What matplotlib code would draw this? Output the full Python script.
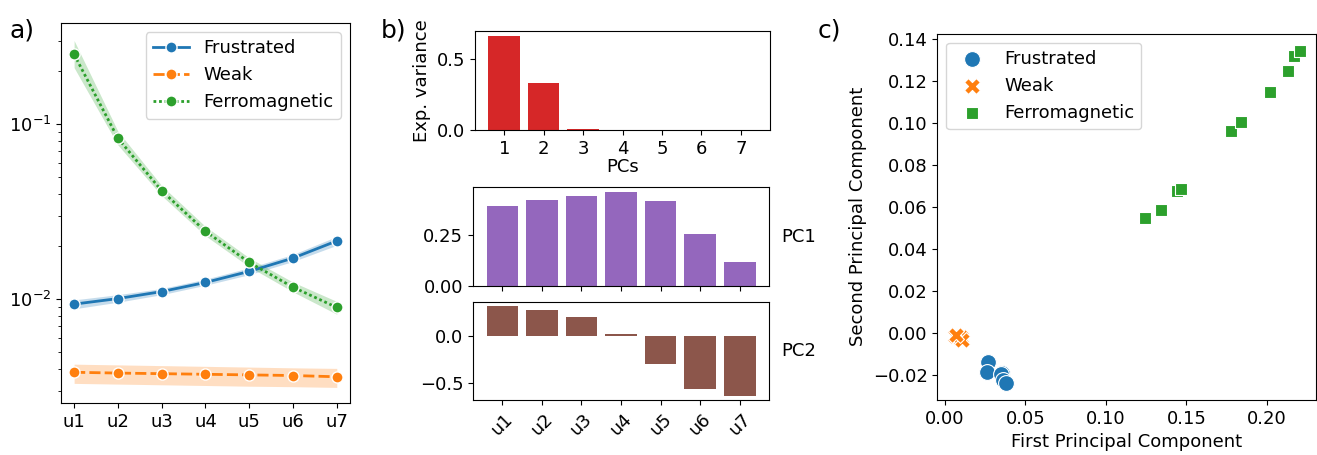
import numpy as np
import matplotlib
matplotlib.use("Agg")
import matplotlib.pyplot as plt

plt.rcParams['font.size'] = 13

# --- panel a: error vs. input (log scale)
units = ['u1', 'u2', 'u3', 'u4', 'u5', 'u6', 'u7']
frustrated = [0.00936, 0.01007, 0.01104, 0.01245, 0.0144, 0.01715, 0.0215]
frustrated_lo = [0.0088, 0.0096, 0.0106, 0.0120, 0.0138, 0.0164, 0.0203]
frustrated_hi = [0.0099, 0.0106, 0.0115, 0.0130, 0.0151, 0.0180, 0.0228]
weak = [0.00382, 0.00378, 0.00375, 0.00372, 0.00369, 0.00366, 0.00360]
weak_lo = [0.00330, 0.00327, 0.00324, 0.00321, 0.00318, 0.00316, 0.00313]
weak_hi = [0.00425, 0.00421, 0.00417, 0.00413, 0.00409, 0.00405, 0.00402]
ferro = [0.25, 0.083, 0.0416, 0.0244, 0.0162, 0.0117, 0.00896]
ferro_lo = [0.21, 0.076, 0.039, 0.023, 0.0153, 0.0110, 0.0082]
ferro_hi = [0.30, 0.091, 0.0445, 0.026, 0.0172, 0.0125, 0.0097]

# --- panel b: PCA of the weights
pcs = [1, 2, 3, 4, 5, 6, 7]
exp_variance = [0.667, 0.329, 0.010, 0.003, 0.0005, 0.0002, 0.0001]
pc1 = [0.394, 0.423, 0.443, 0.462, 0.418, 0.257, 0.119]
pc2 = [0.317, 0.275, 0.200, 0.021, -0.292, -0.560, -0.634]

# --- panel c: projection on the first two components
frus_x = [0.027, 0.026, 0.0353, 0.0347, 0.0363, 0.038]
frus_y = [-0.0135, -0.0183, -0.019, -0.0194, -0.0222, -0.0238]
weak_x = [0.006, 0.008, 0.009, 0.010, 0.0105, 0.007]
weak_y = [-0.0015, -0.002, -0.0025, -0.002, -0.003, -0.001]
ferro_x = [0.1242, 0.134, 0.1441, 0.1464, 0.1776, 0.1838, 0.2021, 0.2129, 0.217, 0.2208]
ferro_y = [0.0551, 0.0589, 0.0678, 0.0686, 0.0965, 0.1005, 0.1148, 0.125, 0.132, 0.1346]

blue, orange, green = '#1f77b4', '#ff7f0e', '#2ca02c'

fig = plt.figure(figsize=(13.17, 4.55), dpi=100)

# a)
ax = fig.add_axes([0.0463, 0.1143, 0.2194, 0.8352])
x = np.arange(len(units))
series = [
    ('Frustrated', frustrated, frustrated_lo, frustrated_hi, blue, '-'),
    ('Weak', weak, weak_lo, weak_hi, orange, (0, (4, 1.5))),
    ('Ferromagnetic', ferro, ferro_lo, ferro_hi, green, (0, (1, 1))),
]
for name, y, lo, hi, c, ls in series:
    ax.fill_between(x, lo, hi, color=c, alpha=0.25, linewidth=0)
    ax.plot(x, y, color=c, linestyle=ls, linewidth=2, marker='o',
            markersize=8, markeredgecolor='white', markeredgewidth=1, label=name)
ax.set_yscale('log')
ax.set_ylim(0.00255, 0.378)
ax.set_xticks(x)
ax.set_xticklabels(units)
ax.legend(loc='upper right')

# b) explained variance
axb1 = fig.add_axes([0.3607, 0.7143, 0.224, 0.2176])
axb1.bar(pcs, exp_variance, color='#d62728')
axb1.set_xticks(pcs)
axb1.set_xlabel('PCs', labelpad=0)
axb1.set_ylabel('Exp. variance')

axb2 = fig.add_axes([0.3592, 0.3708, 0.2247, 0.2176])
axb2.bar(units, pc1, color='#9467bd')
axb2.set_xticklabels([])
axb2.text(1.04, 0.5, 'PC1', transform=axb2.transAxes, va='center')

axb3 = fig.add_axes([0.3592, 0.1202, 0.2247, 0.2167])
axb3.bar(units, pc2, color='#8c564b')
axb3.tick_params(axis='x', labelrotation=45)
axb3.text(1.04, 0.5, 'PC2', transform=axb3.transAxes, va='center')

# c)
axc = fig.add_axes([0.7117, 0.1209, 0.2875, 0.805])
axc.scatter(frus_x, frus_y, s=130, marker='o', color=blue, edgecolor='white', linewidth=0.8, label='Frustrated')
axc.scatter(weak_x, weak_y, s=130, marker='X', color=orange, edgecolor='white', linewidth=0.8, label='Weak')
axc.scatter(ferro_x, ferro_y, s=75, marker='s', color=green, edgecolor='white', linewidth=0.8, label='Ferromagnetic')
axc.set_xlim(-0.0048, 0.2305)
axc.set_ylim(-0.0318, 0.1427)
axc.set_xlabel('First Principal Component')
axc.set_ylabel('Second Principal Component')
axc.legend(loc='upper left')

fig.text(0.007, 0.96, 'a)', fontsize=18, va='top')
fig.text(0.289, 0.96, 'b)', fontsize=18, va='top')
fig.text(0.621, 0.96, 'c)', fontsize=18, va='top')

fig.savefig('out.png', dpi=100)
